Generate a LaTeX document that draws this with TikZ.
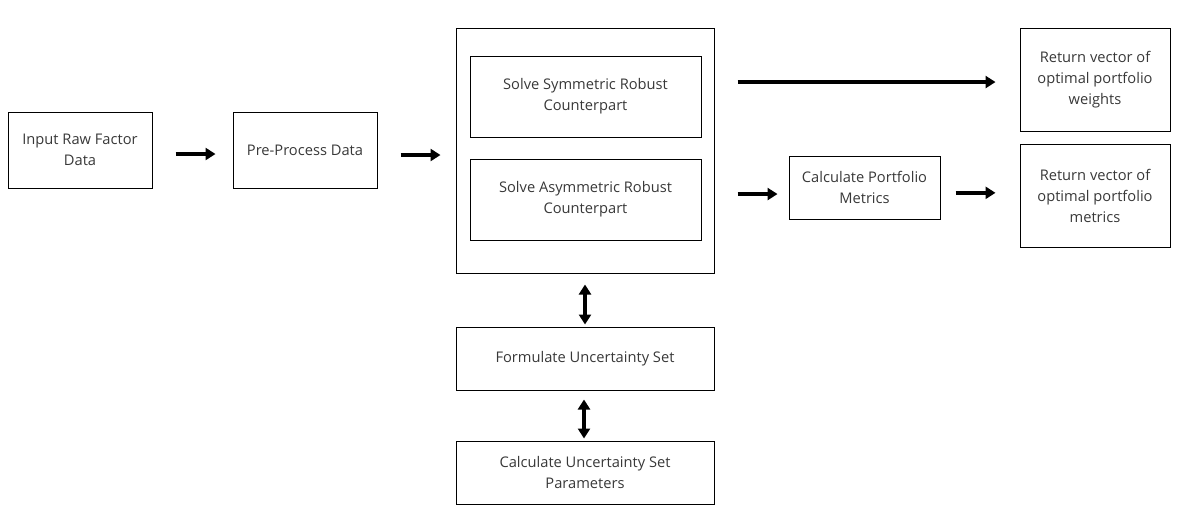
\documentclass[tikz,border=0pt]{standalone}
\usepackage{fontspec}
\setmainfont{Open Sans}
\usetikzlibrary{arrows.meta}

\begin{document}
\begin{tikzpicture}[x=0.75pt,y=0.75pt,yscale=-1,xscale=1,
  box/.style={draw=black, line width=0.75pt, inner sep=0.75pt, align=center, text=black!78, font=\fontsize{11}{15.75}\selectfont},
  arr/.style={line width=3pt, -{Triangle[length=7.5pt,width=9pt]}},
  darr/.style={line width=3pt, {Triangle[length=7.5pt,width=9pt]}-{Triangle[length=7.5pt,width=9pt]}}]
\path (0,0) rectangle (1187,522); %set diagram size

% Shape: Rectangle
\node (raw) [box, minimum width=108pt, minimum height=57pt] at (80,150) {Input Raw Factor\\Data};
% Shape: Rectangle
\node (pre) [box, minimum width=108pt, minimum height=57pt] at (305,150) {Pre-Process Data};
% Shape: Rectangle
\node (solver) [box, minimum width=193.5pt, minimum height=183.75pt] at (585,150.5) {};
% Shape: Rectangle
\node (sym) [box, minimum width=173.25pt, minimum height=60.75pt] at (585.5,96.5) {Solve Symmetric Robust\\Counterpart};
% Shape: Rectangle
\node (asym) [box, minimum width=173.25pt, minimum height=60.75pt] at (585.5,199.5) {Solve Asymmetric Robust\\Counterpart};
% Shape: Rectangle
\node (unc) [box, minimum width=193.5pt, minimum height=47.25pt] at (585,358.5) {Formulate Uncertainty Set};
% Shape: Rectangle
\node (par) [box, minimum width=193.5pt, minimum height=47.25pt] at (585,472.5) {Calculate Uncertainty Set\\Parameters};
% Shape: Rectangle
\node (met) [box, minimum width=113.25pt, minimum height=47.25pt] at (864.5,187.5) {Calculate Portfolio\\Metrics};
% Shape: Rectangle
\node (wts) [box, minimum width=112.5pt, minimum height=77.25pt] at (1095,79.5) {Return vector of\\optimal portfolio\\weights};
% Shape: Rectangle
\node (vec) [box, minimum width=112.5pt, minimum height=77.25pt] at (1095,195.5) {Return vector of\\optimal portfolio\\metrics};

% Arrows
\draw [arr, shorten <=17.25pt, shorten >=12.75pt] ([yshift=3pt]raw.east) -- ([yshift=3pt]pre.west);
\draw [arr, shorten <=17.25pt, shorten >=11.25pt] ([yshift=3.75pt]pre.east) -- ([yshift=3.75pt]solver.west |- pre.west);
\draw [arr, shorten <=17.25pt, shorten >=18pt] ([yshift=1.9pt]solver.east |- wts.west) -- ([yshift=1.9pt]wts.west);
\draw [arr, shorten <=17.25pt, shorten >=8.25pt] ([yshift=4.9pt]solver.east |- met.west) -- ([yshift=4.9pt]met.west);
\draw [arr, shorten <=11.25pt, shorten >=18pt] ([yshift=4pt]met.east) -- ([yshift=4pt]met.east -| vec.west);
\draw [darr, shorten <=8.25pt, shorten >=1.5pt] (solver.south) -- (unc.north);
\draw [darr, shorten <=6.75pt, shorten >=1.5pt] ([xshift=-0.75pt]unc.south) -- ([xshift=-0.75pt]par.north);

\end{tikzpicture}
\end{document}
